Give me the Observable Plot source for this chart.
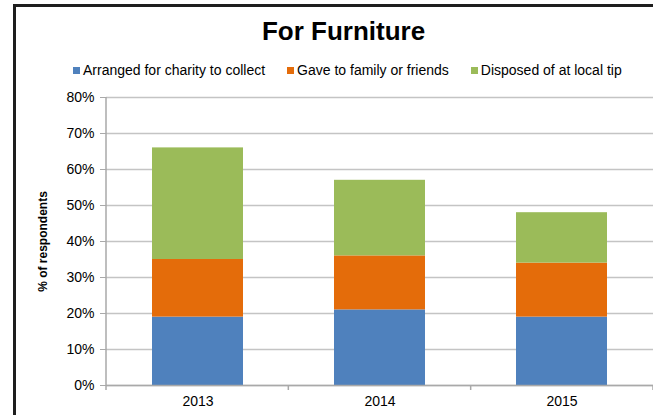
<!DOCTYPE html>
<html><head><meta charset="utf-8">
<script src="https://cdn.jsdelivr.net/npm/d3@7"></script>
<script src="https://cdn.jsdelivr.net/npm/@observablehq/plot@0.6"></script>
<style>
html,body{margin:0;padding:0;background:#fff;}
body{width:653px;height:415px;position:relative;overflow:hidden;font-family:"Liberation Sans",Arial,sans-serif;}
#frame{position:absolute;left:13px;top:4px;width:700px;height:500px;border-left:3px solid #1e1e1e;border-top:3px solid #1e1e1e;}
#title{position:absolute;left:0;top:16px;width:687px;text-align:center;font-weight:bold;font-size:26px;line-height:30px;color:#000;}
#legend{position:absolute;left:73px;top:61px;display:flex;align-items:center;height:18px;font-size:14px;line-height:18px;color:#000;white-space:nowrap;}
.item{display:flex;align-items:center;margin-right:22px;}
.sw{width:7px;height:7px;margin-right:3px;}
#chart{position:absolute;left:0;top:85px;}
</style></head><body>
<div id="frame"></div>
<div id="title">For Furniture</div>
<div id="legend"></div>
<div id="chart"></div>
<script>
const years = ["2013", "2014", "2015"];
const series = ["Arranged for charity to collect", "Gave to family or friends", "Disposed of at local tip"];
const colors = ["#4F81BD", "#E46C0A", "#9BBB59"];
const charity = [19, 21, 19];
const family = [16, 15, 15];
const tip = [31, 21, 14];
const yTicks = [0, 10, 20, 30, 40, 50, 60, 70, 80];
const yLabel = "% of respondents";

const valuesBySeries = [charity, family, tip];
const data = [];
series.forEach((s, si) => {
  years.forEach((y, i) => data.push({year: y, series: s, value: valuesBySeries[si][i]}));
});

// legend
const legend = document.getElementById("legend");
series.forEach((s, i) => {
  const item = document.createElement("div");
  item.className = "item";
  const sw = document.createElement("span");
  sw.className = "sw";
  sw.style.background = colors[i];
  const t = document.createElement("span");
  t.textContent = s;
  item.appendChild(sw); item.appendChild(t);
  legend.appendChild(item);
});

const axisGray = "#a9a9a9";
function axisLines(index, scales, values, dims) {
  const {width, height, marginLeft, marginRight, marginTop, marginBottom} = dims;
  const g = d3.create("svg:g").attr("stroke", axisGray).attr("stroke-width", 1.5);
  const x0 = marginLeft, x1 = width - marginRight, yb = height - marginBottom;
  g.append("line").attr("x1", x0).attr("x2", x0).attr("y1", marginTop).attr("y2", yb + 5);
  const step = (x1 - x0) / years.length;
  for (let i = 1; i <= years.length; i++) {
    const xx = x0 + i * step;
    g.append("line").attr("x1", xx).attr("x2", xx).attr("y1", yb).attr("y2", yb + 5);
  }
  return g.node();
}

const chart = Plot.plot({
  width: 653,
  height: 330,
  marginLeft: 106,
  marginRight: 0,
  marginTop: 12,
  marginBottom: 30,
  style: {fontFamily: "'Liberation Sans', Arial, sans-serif", fontSize: "14px", color: "#000", background: "transparent", overflow: "visible"},
  x: {domain: years, paddingInner: 0.5, paddingOuter: 0.25, label: null},
  y: {domain: [0, 80], label: null},
  color: {domain: series, range: colors},
  marks: [
    Plot.gridY({ticks: yTicks, stroke: "#c4c4c4", strokeOpacity: 1, strokeWidth: 1.5}),
    Plot.barY(data, {x: "year", y: "value", fill: "series"}),
    Plot.ruleY([0], {stroke: axisGray, strokeWidth: 1.5}),
    axisLines,
    Plot.axisY({ticks: yTicks, tickFormat: d => d + "%", tickSize: 6, tickPadding: 6, stroke: axisGray, fill: "#000", fontSize: 14, label: null}),
    Plot.axisX({tickSize: 0, tickPadding: 11, fill: "#000", fontSize: 14, label: null}),
    Plot.text([yLabel], {text: d => d, frameAnchor: "left", textAnchor: "middle", lineAnchor: "middle", rotate: -90, dx: -63, fontWeight: "bold", fontSize: 12, fill: "#000"})
  ]
});
document.getElementById("chart").appendChild(chart);
</script>
</body></html>
